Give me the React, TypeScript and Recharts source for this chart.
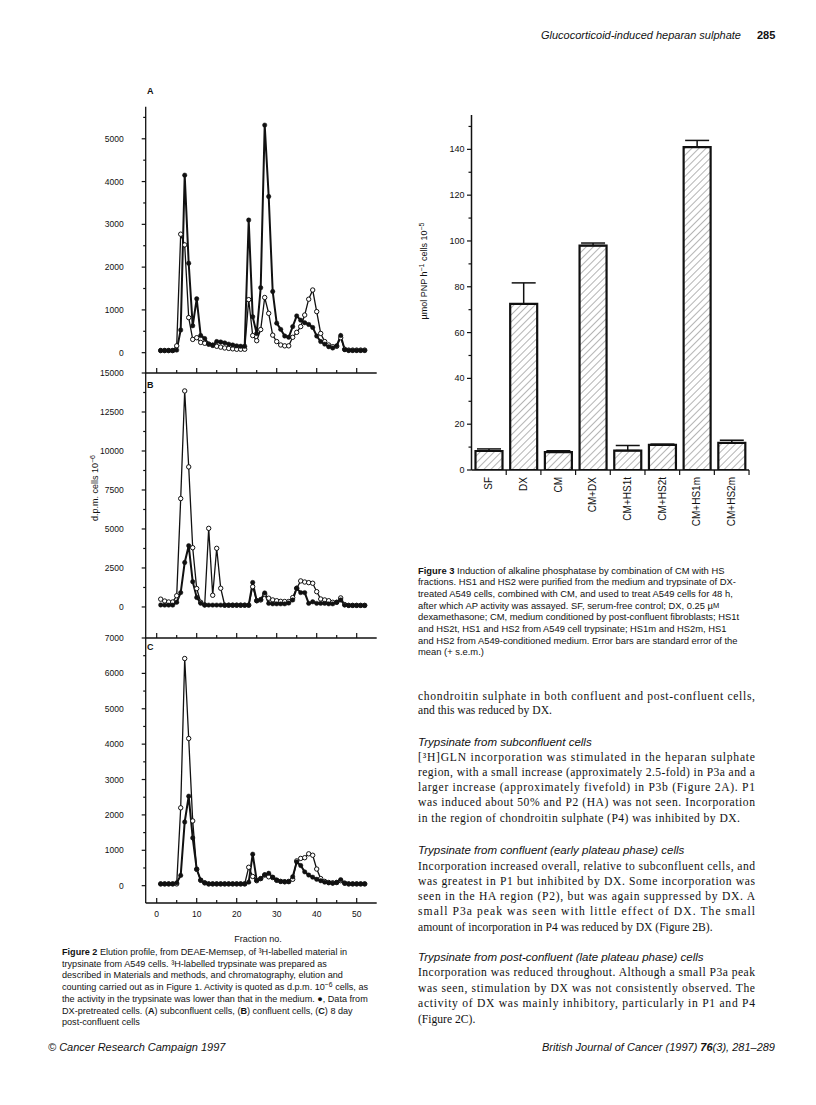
import React from 'react';
import { LineChart, Line, XAxis, YAxis, BarChart, Bar, ErrorBar } from 'recharts';

const SANS = "'Liberation Sans', Arial, Helvetica, sans-serif";
const SERIF = "'Liberation Serif', 'Times New Roman', serif";

// ---------- Figure 2 data (fraction no. vs d.p.m. cells 10^-6) ----------
const fractions = [1, 2, 3, 4, 5, 6, 7, 8, 9, 10, 11, 12, 13, 14, 15, 16, 17, 18, 19, 20, 21, 22, 23, 24, 25, 26, 27, 28, 29, 30, 31, 32, 33, 34, 35, 36, 37, 38, 39, 40, 41, 42, 43, 44, 45, 46, 47, 48, 49, 50, 51, 52];

const panelA_dx = [50, 50, 50, 50, 60, 530, 4150, 2090, 630, 1260, 400, 330, 200, 180, 260, 250, 230, 200, 180, 160, 150, 150, 3100, 840, 450, 1520, 5320, 3650, 1430, 690, 545, 390, 360, 610, 860, 760, 700, 660, 590, 390, 260, 200, 140, 110, 160, 400, 70, 50, 50, 50, 50, 50];
const panelA_ctl = [50, 50, 50, 50, 160, 2770, 2520, 820, 310, 350, 240, 220, 200, 170, 150, 130, 110, 100, 90, 80, 80, 80, 1240, 400, 280, 540, 1290, 920, 410, 260, 180, 160, 160, 360, 475, 610, 880, 1250, 1465, 960, 450, 260, 180, 140, 150, 350, 80, 60, 60, 60, 60, 60];

const panelB_dx = [130, 120, 120, 120, 300, 920, 2850, 3930, 1620, 610, 240, 130, 120, 120, 120, 120, 120, 120, 120, 120, 120, 120, 120, 1570, 400, 480, 900, 230, 200, 200, 200, 200, 250, 450, 1200, 920, 920, 230, 330, 230, 230, 230, 200, 200, 300, 450, 120, 100, 100, 100, 100, 100];
const panelB_ctl = [500, 380, 320, 320, 720, 6950, 13850, 8980, 3800, 1180, 300, 130, 5040, 750, 3760, 1200, 110, 110, 110, 110, 110, 110, 110, 1300, 400, 450, 820, 560, 450, 400, 360, 350, 350, 600, 1200, 1670, 1600, 1560, 1520, 980, 510, 450, 400, 300, 300, 580, 150, 100, 100, 100, 100, 100];

const panelC_dx = [50, 50, 50, 50, 80, 290, 1800, 2530, 1350, 470, 160, 80, 50, 50, 50, 50, 50, 50, 50, 50, 50, 50, 100, 890, 150, 200, 310, 350, 240, 160, 120, 110, 110, 250, 670, 570, 390, 300, 240, 180, 140, 100, 80, 70, 90, 170, 70, 50, 50, 50, 50, 50];
const panelC_ctl = [50, 50, 50, 50, 50, 2200, 6420, 4160, 1830, 460, 150, 80, 50, 50, 50, 50, 50, 50, 50, 50, 50, 50, 520, 260, 140, 200, 300, 250, 230, 150, 120, 110, 120, 180, 700, 770, 790, 900, 860, 470, 200, 120, 90, 80, 90, 140, 70, 50, 50, 50, 50, 50];

const fracTicks = [0, 5, 10, 15, 20, 25, 30, 35, 40, 45, 50];
const ticksA = [0, 500, 1000, 1500, 2000, 2500, 3000, 3500, 4000, 4500, 5000, 5500];
const ticksB = [0, 1250, 2500, 3750, 5000, 6250, 7500, 8750, 10000, 11250, 12500, 13750, 15000];
const ticksC = [0, 500, 1000, 1500, 2000, 2500, 3000, 3500, 4000, 4500, 5000, 5500, 6000, 6500, 7000];

// ---------- Figure 3 data ----------
const fig3Categories = ['SF', 'DX', 'CM', 'CM+DX', 'CM+HS1t', 'CM+HS2t', 'CM+HS1m', 'CM+HS2m'];
const fig3Values = [8.3, 72.5, 7.8, 98, 8.5, 11, 141, 11.8];
const fig3Errors = [0.9, 9.2, 0.6, 1.1, 2.2, 0.3, 2.9, 1.2];
const fig3Ticks = [0, 10, 20, 30, 40, 50, 60, 70, 80, 90, 100, 110, 120, 130, 140, 150];

const buildPanel = (dx: number[], ctl: number[]) =>
  fractions.map((f, i) => ({ f, dx: dx[i], ctl: ctl[i] }));

const fig3Data = fig3Categories.map((c, i) => ({ cat: c, v: fig3Values[i], e: [0, fig3Errors[i]] }));

function makeYTick(majorStep: number, gap: number, fontSize: number, majorLen: number, minorLen: number) {
  return (props: any) => {
    const { x, y, payload } = props;
    const v = payload.value;
    const major = Math.abs(v % majorStep) < 1e-6;
    return (
      <g>
        <line x1={x} x2={x - (major ? majorLen : minorLen)} y1={y} y2={y} stroke="#111" strokeWidth={1.2} />
        {major ? (
          <text x={x - gap} y={y} textAnchor="end" dominantBaseline="central" fontSize={fontSize} fontFamily={SANS} fill="#111">
            {v}
          </text>
        ) : null}
      </g>
    );
  };
}

function makeXTick(showLabels: boolean) {
  return (props: any) => {
    const { x, y, payload } = props;
    const v = payload.value;
    const major = v % 10 === 0;
    return (
      <g>
        <line x1={x} x2={x} y1={y} y2={y - (major ? 5 : 3)} stroke="#111" strokeWidth={1.2} />
        {showLabels && major ? (
          <text x={x} y={y + 11} textAnchor="middle" dominantBaseline="central" fontSize={8.5} fontFamily={SANS} fill="#111">
            {v}
          </text>
        ) : null}
      </g>
    );
  };
}

const axisLine = { stroke: '#111', strokeWidth: 1.3 };

function Panel(props: {
  left: number; top: number; width: number; height: number;
  margin: { top: number; right: number; bottom: number; left: number };
  data: any[]; yDomain: [number, number]; yTicks: number[]; yMajor: number; xLabels: boolean;
}) {
  const { left, top, width, height, margin, data, yDomain, yTicks, yMajor, xLabels } = props;
  return (
    <div style={{ position: 'absolute', left, top }}>
      <LineChart width={width} height={height} data={data} margin={margin}>
        <XAxis
          type="number"
          dataKey="f"
          domain={[-2.75, 55]}
          ticks={fracTicks}
          interval={0}
          tickSize={0}
          tickMargin={0}
          tickLine={false}
          height={1}
          axisLine={axisLine}
          tick={makeXTick(xLabels)}
          allowDataOverflow
        />
        <YAxis
          type="number"
          domain={yDomain}
          ticks={yTicks}
          interval={0}
          tickSize={0}
          tickMargin={0}
          tickLine={false}
          width={1}
          axisLine={axisLine}
          tick={makeYTick(yMajor, 22, 8.5, 4, 2.5)}
          allowDataOverflow
        />
        <Line
          type="linear"
          dataKey="ctl"
          stroke="#111"
          strokeWidth={1.3}
          dot={{ r: 2.2, fill: '#fff', stroke: '#111', strokeWidth: 1 }}
          activeDot={false}
          isAnimationActive={false}
        />
        <Line
          type="linear"
          dataKey="dx"
          stroke="#111"
          strokeWidth={2}
          dot={{ r: 2.2, fill: '#111', stroke: '#111', strokeWidth: 0.5 }}
          activeDot={false}
          isAnimationActive={false}
        />
      </LineChart>
    </div>
  );
}

const FIG3_BAND = 278 / 8;

const Fig3XTick = (props: any) => {
  const { x, y, payload } = props;
  return (
    <g>
      <line x1={x + FIG3_BAND / 2} x2={x + FIG3_BAND / 2} y1={y} y2={y + 5} stroke="#111" strokeWidth={1.2} />
      <text
        transform={`translate(${x + 3.5},${y + 7}) rotate(-90)`}
        textAnchor="end"
        fontSize={10}
        fontFamily={SANS}
        fill="#111"
      >
        {payload.value}
      </text>
    </g>
  );
};

type Line_ = { y: number; t: React.ReactNode; j?: number };

const bodyLines: Line_[] = [
  { y: 696, t: 'chondroitin sulphate in both confluent and post-confluent cells,', j: 337 },
  { y: 710.5, t: 'and this was reduced by DX.' },
  { y: 757, t: '[³H]GLN incorporation was stimulated in the heparan sulphate', j: 337 },
  { y: 772.3, t: 'region, with a small increase (approximately 2.5-fold) in P3a and a', j: 337 },
  { y: 787.6, t: 'larger increase (approximately fivefold) in P3b (Figure 2A). P1', j: 337 },
  { y: 802.9, t: 'was induced about 50% and P2 (HA) was not seen. Incorporation', j: 337 },
  { y: 818.2, t: 'in the region of chondroitin sulphate (P4) was inhibited by DX.', j: 322 },
  { y: 866, t: 'Incorporation increased overall, relative to subconfluent cells, and', j: 337 },
  { y: 881.3, t: 'was greatest in P1 but inhibited by DX. Some incorporation was', j: 337 },
  { y: 896.6, t: 'seen in the HA region (P2), but was again suppressed by DX. A', j: 337 },
  { y: 911.9, t: 'small P3a peak was seen with little effect of DX. The small', j: 337 },
  { y: 927.2, t: 'amount of incorporation in P4 was reduced by DX (Figure 2B).' },
  { y: 972.7, t: 'Incorporation was reduced throughout. Although a small P3a peak', j: 337 },
  { y: 988.2, t: 'was seen, stimulation by DX was not consistently observed. The', j: 337 },
  { y: 1003.7, t: 'activity of DX was mainly inhibitory, particularly in P1 and P4', j: 337 },
  { y: 1019.2, t: '(Figure 2C).' },
];

const headings = [
  { y: 741.5, t: 'Trypsinate from subconfluent cells' },
  { y: 850, t: 'Trypsinate from confluent (early plateau phase) cells' },
  { y: 956.7, t: 'Trypsinate from post-confluent (late plateau phase) cells' },
];

const B = (s: string) => <tspan fontWeight="bold">{s}</tspan>;

const fig2Caption: { y: number; t: React.ReactNode }[] = [
  { y: 952, t: <>{B('Figure 2')}{'  Elution profile, from DEAE-Memsep, of ³H-labelled material in'}</> },
  { y: 963.7, t: 'trypsinate from A549 cells. ³H-labelled trypsinate was prepared as' },
  { y: 975.4, t: 'described in Materials and methods, and chromatography, elution and' },
  { y: 987.1, t: <>{'counting carried out as in Figure 1. Activity is quoted as d.p.m. 10'}<tspan dy={-3} fontSize="75%">−6</tspan><tspan dy={3}>{' cells, as'}</tspan></> },
  { y: 998.8, t: 'the activity in the trypsinate was lower than that in the medium. ●, Data from' },
  { y: 1010.5, t: <>{'DX-pretreated cells. ('}{B('A')}{') subconfluent cells, ('}{B('B')}{') confluent cells, ('}{B('C')}{') 8 day'}</> },
  { y: 1022.2, t: 'post-confluent cells' },
];

const fig3Caption: { y: number; t: React.ReactNode }[] = [
  { y: 570, t: <>{B('Figure 3')}{'  Induction of alkaline phosphatase by combination of CM with HS'}</> },
  { y: 581.7, t: 'fractions. HS1 and HS2 were purified from the medium and trypsinate of DX-' },
  { y: 593.4, t: 'treated A549 cells, combined with CM, and used to treat A549 cells for 48 h,' },
  { y: 605.1, t: <>{'after which AP activity was assayed. SF, serum-free control; DX, 0.25 µ'}<tspan fontSize="80%">M</tspan></> },
  { y: 616.8, t: 'dexamethasone; CM, medium conditioned by post-confluent fibroblasts; HS1t' },
  { y: 628.5, t: 'and HS2t, HS1 and HS2 from A549 cell trypsinate; HS1m and HS2m, HS1' },
  { y: 640.2, t: 'and HS2 from A549-conditioned medium. Error bars are standard error of the' },
  { y: 651.9, t: 'mean (+ s.e.m.)' },
];

export default function App() {
  const dataA = buildPanel(panelA_dx, panelA_ctl);
  const dataB = buildPanel(panelB_dx, panelB_ctl);
  const dataC = buildPanel(panelC_dx, panelC_ctl);

  return (
    <div style={{ position: 'absolute', left: 0, top: 0, width: 816, height: 1105, background: '#fff', overflow: 'hidden' }}>
      <svg width={0} height={0} style={{ position: 'absolute' }}>
        <defs>
          <pattern id="hatch" patternUnits="userSpaceOnUse" width={5} height={5} patternTransform="rotate(45)">
            <rect width={5} height={5} fill="#fff" />
            <line x1={0} y1={0} x2={0} y2={5} stroke="#444" strokeWidth={0.8} />
          </pattern>
        </defs>
      </svg>

      {/* Figure 2, panel A */}
      <Panel
        left={60} top={95} width={330} height={290}
        margin={{ top: 11.7, right: 13.3, bottom: 11, left: 84.7 }}
        data={dataA} yDomain={[-475, 5750]} yTicks={ticksA} yMajor={1000} xLabels={false}
      />
      {/* Figure 2, panel B */}
      <Panel
        left={60} top={365} width={330} height={285}
        margin={{ top: 8, right: 13.3, bottom: 11, left: 84.7 }}
        data={dataB} yDomain={[-1990, 15000]} yTicks={ticksB} yMajor={2500} xLabels={false}
      />
      {/* Figure 2, panel C */}
      <Panel
        left={60} top={630} width={330} height={300}
        margin={{ top: 8, right: 13.3, bottom: 26, left: 84.7 }}
        data={dataC} yDomain={[-490, 7000]} yTicks={ticksC} yMajor={1000} xLabels={true}
      />

      {/* Figure 3 */}
      <div style={{ position: 'absolute', left: 400, top: 100 }}>
        <BarChart width={360} height={460} data={fig3Data} margin={{ top: 15, right: 11, bottom: 89, left: 70.5 }} barSize={27}>
          <XAxis
            dataKey="cat"
            interval={0}
            tickSize={0}
            tickMargin={0}
            tickLine={false}
            height={1}
            axisLine={{ stroke: '#111', strokeWidth: 1.5 }}
            tick={Fig3XTick}
          />
          <YAxis
            type="number"
            domain={[0, 155]}
            ticks={fig3Ticks}
            interval={0}
            tickSize={0}
            tickMargin={0}
            tickLine={false}
            width={1}
            axisLine={{ stroke: '#111', strokeWidth: 1.5 }}
            tick={makeYTick(20, 7, 9, 4.5, 3)}
            allowDataOverflow
          />
          <Bar dataKey="v" fill="url(#hatch)" stroke="#111" strokeWidth={2.2} isAnimationActive={false}>
            <ErrorBar dataKey="e" width={12} stroke="#111" strokeWidth={1.5} direction="y" />
          </Bar>
        </BarChart>
      </div>

      {/* Text overlay */}
      <svg width={816} height={1105} style={{ position: 'absolute', left: 0, top: 0, pointerEvents: 'none' }}>
        {/* running header */}
        <text x={541} y={39} fontSize={11} fontStyle="italic" fontFamily={SANS} fill="#111">Glucocorticoid-induced heparan sulphate</text>
        <text x={757} y={39} fontSize={11} fontWeight="bold" fontFamily={SANS} fill="#111">285</text>

        {/* Figure 2 labels */}
        <text x={147} y={91} fontSize={9} fontWeight="bold" fontFamily={SANS} dominantBaseline="central" fill="#111">A</text>
        <text x={147} y={385} fontSize={9} fontWeight="bold" fontFamily={SANS} dominantBaseline="central" fill="#111">B</text>
        <text x={147} y={647} fontSize={9} fontWeight="bold" fontFamily={SANS} dominantBaseline="central" fill="#111">C</text>
        <text transform="translate(98,488) rotate(-90)" textAnchor="middle" fontSize={9} fontFamily={SANS} fill="#111">
          d.p.m. cells 10<tspan dy={-3} fontSize={7}>−6</tspan>
        </text>
        <text x={258} y={939} textAnchor="middle" dominantBaseline="central" fontSize={9} fontFamily={SANS} fill="#111">Fraction no.</text>

        {/* Figure 3 y label */}
        <text transform="translate(427,271) rotate(-90)" textAnchor="middle" fontSize={9} fontFamily={SANS} fill="#111">
          µmol PNP h<tspan dy={-3} fontSize={7}>−1</tspan><tspan dy={3}> cells 10</tspan><tspan dy={-3} fontSize={7}>−5</tspan>
        </text>

        {/* Figure 3 caption */}
        {fig3Caption.map((l, i) => (
          <text key={'c3' + i} x={418} y={l.y} dominantBaseline="central" fontSize={9.4} fontFamily={SANS} fill="#111">{l.t}</text>
        ))}

        {/* Figure 2 caption */}
        {fig2Caption.map((l, i) => (
          <text key={'c2' + i} x={62} y={l.y} dominantBaseline="central" fontSize={9.1} fontFamily={SANS} fill="#111">{l.t}</text>
        ))}

        {/* body text */}
        {headings.map((h, i) => (
          <text key={'h' + i} x={418} y={h.y} dominantBaseline="central" fontSize={11.5} fontStyle="italic" fontFamily={SANS} fill="#111">{h.t}</text>
        ))}
        {bodyLines.map((l, i) => (
          <text
            key={'b' + i}
            x={418}
            y={l.y}
            dominantBaseline="central"
            fontSize={11.6}
            fontFamily={SERIF}
            fill="#111"
            {...(l.j ? { textLength: l.j, lengthAdjust: 'spacing' } : {})}
          >
            {l.t}
          </text>
        ))}

        {/* footer */}
        <text x={48} y={1051} fontSize={11} fontStyle="italic" fontFamily={SANS} fill="#111">© Cancer Research Campaign 1997</text>
        <text x={775} y={1051} textAnchor="end" fontSize={11} fontStyle="italic" fontFamily={SANS} fill="#111">
          British Journal of Cancer (1997) <tspan fontWeight="bold">76</tspan>(3), 281–289
        </text>
      </svg>
    </div>
  );
}
